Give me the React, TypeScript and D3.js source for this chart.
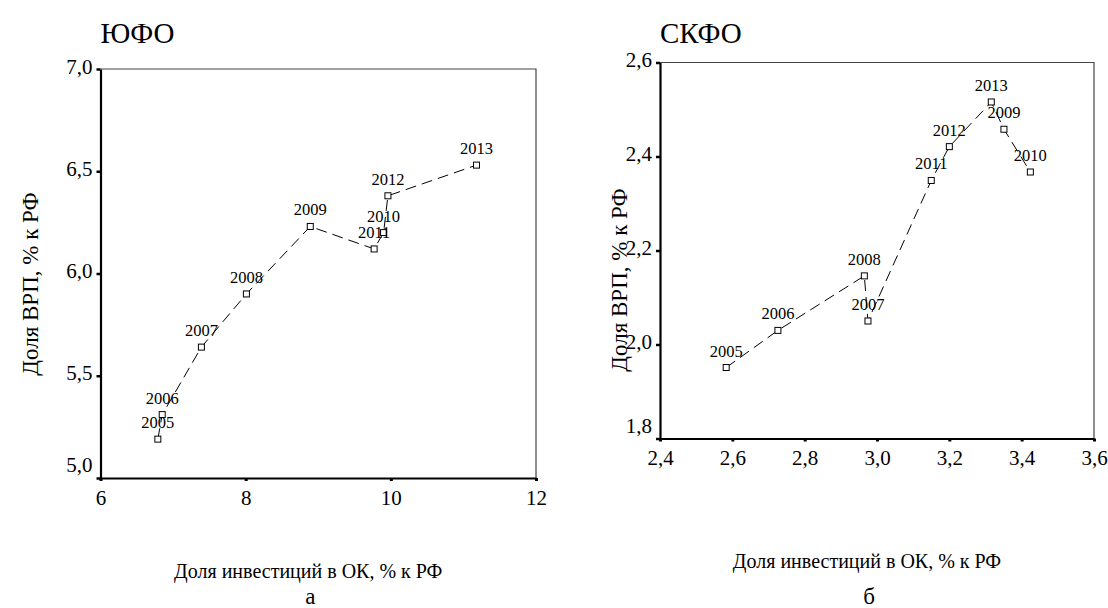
import { useRef, useEffect } from 'react';
import * as d3 from 'd3';

// years shown next to each point
const years = [2005, 2006, 2007, 2008, 2009, 2010, 2011, 2012, 2013];

// ЮФО: investment share (x) and GRP share (y), % of RF
const southInvest = [6.79, 6.85, 7.39, 8.01, 8.89, 9.9, 9.77, 9.96, 11.18];
const southGrp = [5.19, 5.31, 5.64, 5.9, 6.23, 6.2, 6.12, 6.38, 6.53];
const southXTicks = [6, 8, 10, 12];
const southYTicks = [5.0, 5.5, 6.0, 6.5, 7.0];

// СКФО
const ncInvest = [2.583, 2.726, 2.975, 2.965, 3.351, 3.424, 3.15, 3.2, 3.316];
const ncGrp = [1.951, 2.03, 2.05, 2.146, 2.458, 2.367, 2.349, 2.421, 2.516];
const ncXTicks = [2.4, 2.6, 2.8, 3.0, 3.2, 3.4, 3.6];
const ncYTicks = [1.8, 2.0, 2.2, 2.4, 2.6];

const yTitle = 'Доля ВРП, % к РФ';
const xTitle = 'Доля инвестиций в ОК, % к РФ';

const FONT = "'Liberation Serif', 'Times New Roman', serif";

const comma1 = (d) => d3.format('.1f')(d).replace('.', ',');

function App() {
  const svgRef = useRef(null);
  const width = 1108;
  const height = 608;

  useEffect(() => {
    const svg = d3.select(svgRef.current);
    svg.selectAll('*').remove();

    const panels = [
      {
        title: 'ЮФО',
        caption: 'а',
        xs: southInvest,
        ys: southGrp,
        xTicks: southXTicks,
        yTicks: southYTicks,
        xFmt: d3.format('d'),
        yFmt: comma1,
        box: { left: 100.5, right: 536, top: 69, bottom: 478 },
        yTitleX: 30,
        yTitleY: 284,
        xTitleY: 578,
      },
      {
        title: 'СКФО',
        caption: 'б',
        xs: ncInvest,
        ys: ncGrp,
        xTicks: ncXTicks,
        yTicks: ncYTicks,
        xFmt: comma1,
        yFmt: comma1,
        box: { left: 660, right: 1094, top: 62.5, bottom: 438.5 },
        yTitleX: 619,
        yTitleY: 280,
        xTitleY: 568,
      },
    ];

    const root = svg.append('g').attr('font-family', FONT).attr('fill', '#000');

    panels.forEach((p) => {
      const { box } = p;
      const g = root.append('g');

      const x = d3
        .scaleLinear()
        .domain(d3.extent(p.xTicks))
        .range([box.left, box.right]);
      const y = d3
        .scaleLinear()
        .domain(d3.extent(p.yTicks))
        .range([box.bottom, box.top]);

      // frame: thin top/right
      g.append('path')
        .attr('d', `M${box.left},${box.top}H${box.right}V${box.bottom}`)
        .attr('fill', 'none')
        .attr('stroke', '#444')
        .attr('stroke-width', 1.2);

      const yAxis = g
        .append('g')
        .attr('transform', `translate(${box.left},0)`)
        .call(
          d3
            .axisLeft(y)
            .tickValues(p.yTicks)
            .tickFormat(p.yFmt)
            .tickSize(4)
            .tickSizeOuter(0)
            .tickPadding(4)
        )
        .attr('font-family', FONT)
        .attr('font-size', 21);
      yAxis.select('.domain').attr('stroke', '#000').attr('stroke-width', 2.2);
      yAxis.selectAll('.tick line').attr('stroke-width', 2.5);
      yAxis
        .selectAll('.tick text')
        .attr('fill', '#000')
        .attr('dy', (d) => (d === p.yTicks[0] ? '-0.3em' : '0.2em'));

      const xAxis = g
        .append('g')
        .attr('transform', `translate(0,${box.bottom})`)
        .call(
          d3
            .axisBottom(x)
            .tickValues(p.xTicks)
            .tickFormat(p.xFmt)
            .tickSize(3)
            .tickSizeOuter(0)
            .tickPadding(9)
        )
        .attr('font-family', FONT)
        .attr('font-size', 21);
      xAxis.select('.domain').attr('stroke', '#000').attr('stroke-width', 2.2);
      xAxis.selectAll('.tick line').attr('stroke-width', 3);
      xAxis.selectAll('.tick text').attr('fill', '#000');

      // titles
      g.append('text')
        .attr('x', box.left)
        .attr('y', 43)
        .attr('font-size', 29)
        .text(p.title);

      g.append('text')
        .attr('transform', `translate(${p.yTitleX},${p.yTitleY}) rotate(-90)`)
        .attr('text-anchor', 'middle')
        .attr('dy', '0.35em')
        .attr('font-size', 23)
        .text(yTitle);

      g.append('text')
        .attr('x', (box.left + box.right) / 2 - 10)
        .attr('y', p.xTitleY)
        .attr('text-anchor', 'middle')
        .attr('font-size', 20)
        .text(xTitle);

      g.append('text')
        .attr('x', (box.left + box.right) / 2 - 8)
        .attr('y', 604)
        .attr('text-anchor', 'middle')
        .attr('font-size', 23)
        .text(p.caption);

      // points joined in order of x
      const pts = years
        .map((yr, i) => ({ year: yr, xv: p.xs[i], yv: p.ys[i] }))
        .sort((a, b) => a.xv - b.xv);

      const line = d3
        .line()
        .x((d) => x(d.xv))
        .y((d) => y(d.yv));

      g.append('path')
        .datum(pts)
        .attr('fill', 'none')
        .attr('stroke', '#000')
        .attr('stroke-width', 1)
        .attr('stroke-dasharray', '11,6')
        .attr('d', line);

      g.selectAll('rect.pt')
        .data(pts)
        .join('rect')
        .attr('class', 'pt')
        .attr('x', (d) => x(d.xv) - 3)
        .attr('y', (d) => y(d.yv) - 3)
        .attr('width', 6)
        .attr('height', 6)
        .attr('fill', '#fff')
        .attr('stroke', '#000')
        .attr('stroke-width', 1);

      g.selectAll('text.yr')
        .data(pts)
        .join('text')
        .attr('class', 'yr')
        .attr('x', (d) => x(d.xv))
        .attr('y', (d) => y(d.yv) - 11)
        .attr('text-anchor', 'middle')
        .attr('font-size', 16.5)
        .text((d) => d.year);
    });
  }, []);

  return (
    <svg
      ref={svgRef}
      width={width}
      height={height}
      style={{ position: 'absolute', left: 0, top: 0, background: '#fff' }}
    ></svg>
  );
}

export default App;
